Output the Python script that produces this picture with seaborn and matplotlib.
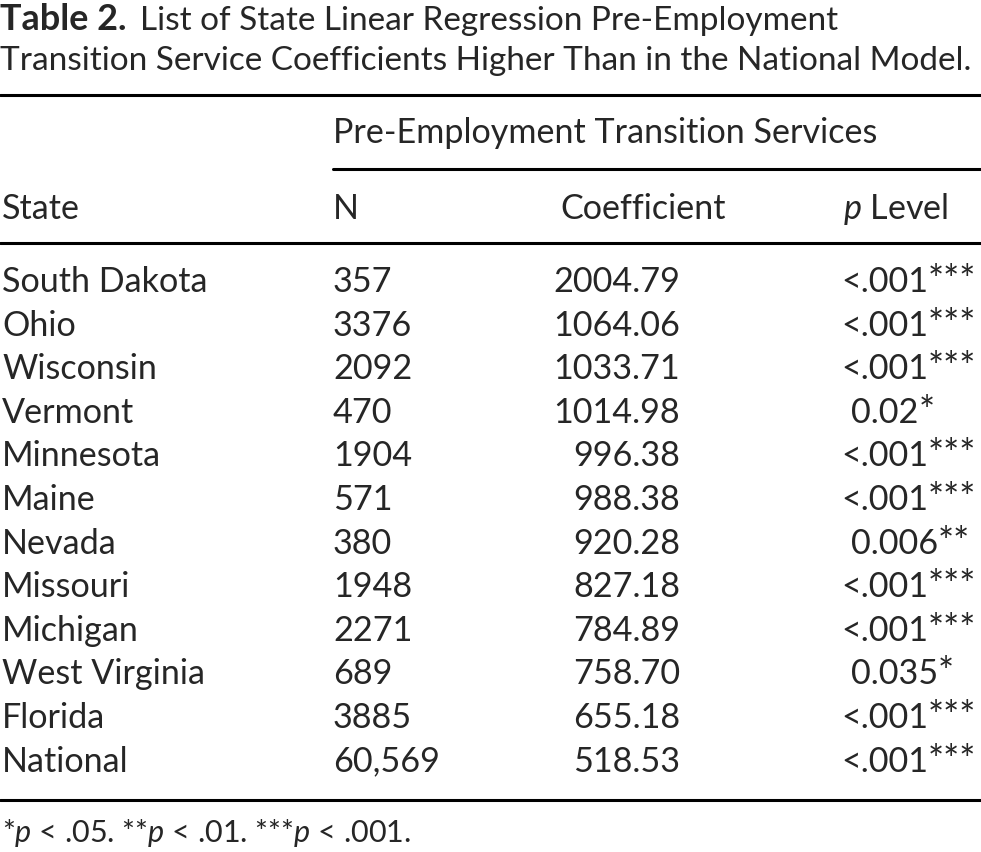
import matplotlib
matplotlib.use("Agg")
import matplotlib.pyplot as plt
import seaborn as sns

# table data
states = ["South Dakota", "Ohio", "Wisconsin", "Vermont", "Minnesota", "Maine",
          "Nevada", "Missouri", "Michigan", "West Virginia", "Florida", "National"]
n_vals = ["357", "3376", "2092", "470", "1904", "571",
          "380", "1948", "2271", "689", "3885", "60,569"]
coefs = ["2004.79", "1064.06", "1033.71", "1014.98", "996.38", "988.38",
         "920.28", "827.18", "784.89", "758.70", "655.18", "518.53"]
p_levels = ["<.001***", "<.001***", "<.001***", "0.02*", "<.001***", "<.001***",
            "0.006**", "<.001***", "<.001***", "0.035*", "<.001***", "<.001***"]

title_bold = "Table 2."
title_line1 = "List of State Linear Regression Pre-Employment"
title_line2 = "Transition Service Coefficients Higher Than in the National Model."
group_header = "Pre-Employment Transition Services"
col_headers = ["State", "N", "Coefficient", "$p$ Level"]
footnote = "*$p$ < .05. **$p$ < .01. ***$p$ < .001."

sns.set_theme(style="white")
plt.rcParams['font.family'] = ['Lato', 'DejaVu Sans']
plt.rcParams['mathtext.fontset'] = 'custom'
plt.rcParams['mathtext.rm'] = 'Lato'
plt.rcParams['mathtext.it'] = 'Lato:italic'
plt.rcParams['mathtext.bf'] = 'Lato:bold'

fig = plt.figure(figsize=(9.81, 8.52), dpi=100)
ax = fig.add_axes([0, 0, 1, 1])
ax.set_xlim(0, 981)
ax.set_ylim(852, 0)
ax.axis("off")
fig.canvas.draw()
rend = fig.canvas.get_renderer()
inv = ax.transData.inverted()


def fit(t, target):
    w = t.get_window_extent(rend).width
    t.set_fontsize(t.get_fontsize() * target / w)
    return t.get_fontsize()


def right_edge(t):
    return inv.transform(t.get_window_extent(rend))[1][0]


# font sizes from the widths in the picture
probe = ax.text(0, 0, "South Dakota", fontsize=20)
body_fs = fit(probe, 206)
probe.remove()
probe = ax.text(0, 0, title_line2, fontsize=20)
title_fs = fit(probe, 975)
probe.remove()

# title
tb = ax.text(0, 30, title_bold, fontsize=title_fs * 1.08, fontweight="bold", va="baseline")
ax.text(right_edge(tb) + 13, 30, title_line1, fontsize=title_fs, va="baseline")
ax.text(0, 70, title_line2, fontsize=title_fs, va="baseline")

# rules
lw = 2.2
ax.plot([0, 981], [95, 95], color="black", lw=lw)
ax.plot([333, 981], [169, 169], color="black", lw=lw)
ax.plot([0, 981], [243, 243], color="black", lw=lw)
ax.plot([0, 981], [800, 800], color="black", lw=lw)

# headers
ax.text(333, 143, group_header, fontsize=body_fs, va="baseline")
ax.text(2, 219, col_headers[0], fontsize=body_fs, va="baseline")
ax.text(333, 219, col_headers[1], fontsize=body_fs, va="baseline")
ax.text(560, 219, col_headers[2], fontsize=body_fs, va="baseline")
ax.text(843, 219, col_headers[3], fontsize=body_fs, va="baseline")

# body rows
for i, st in enumerate(states):
    y = 292 + i * 43.6
    ax.text(2, y, st, fontsize=body_fs, va="baseline")
    ax.text(333, y, n_vals[i], fontsize=body_fs, va="baseline")
    ax.text(680, y, coefs[i], fontsize=body_fs, va="baseline", ha="right")
    val = p_levels[i].rstrip("*")
    stars = p_levels[i][len(val):]
    px = 841 if val.startswith("<") else 851
    tv = ax.text(px, y, val, fontsize=body_fs, va="baseline")
    ax.text(right_edge(tv), y + 1, stars, fontsize=body_fs * 1.12, va="baseline")

fn = ax.text(2, 842, footnote, fontsize=body_fs * 0.85, va="baseline")
fit(fn, 408)

fig.savefig("out.png", dpi=100, facecolor="white")
